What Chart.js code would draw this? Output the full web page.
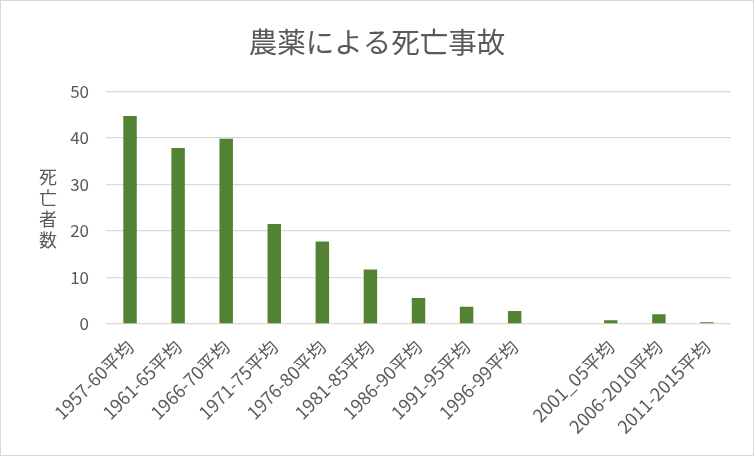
<!DOCTYPE html>
<html>
<head>
<meta charset="utf-8">
<script src="https://cdn.jsdelivr.net/npm/chart.js@4"></script>
<style>
  body { margin: 0; background: #fff; }
  #box { width: 752px; height: 454px; border: 1px solid #d9d9d9; }
</style>
</head>
<body>
<div id="box"><canvas id="myChart" width="752" height="454"></canvas></div>
<script>
const chart_title = "農薬による死亡事故";
const y_title = "死亡者数";
const periods = ["1957-60平均", "1961-65平均", "1966-70平均", "1971-75平均", "1976-80平均",
  "1981-85平均", "1986-90平均", "1991-95平均", "1996-99平均", "",
  "2001_05平均", "2006-2010平均", "2011-2015平均"];
const deaths = [44.7, 37.8, 39.8, 21.5, 17.7, 11.7, 5.6, 3.7, 2.8, null, 0.8, 2.1, 0.4];
const y_ticks = [0, 10, 20, 30, 40, 50];

const textColor = "#595959";
const fontFamily = "'Noto Sans CJK JP', 'Noto Sans', sans-serif";

/* vertical axis title, one character per line */
const verticalTitle = {
  id: "verticalTitle",
  afterDraw(chart) {
    const ctx = chart.ctx;
    ctx.save();
    ctx.fillStyle = textColor;
    ctx.font = "18px " + fontFamily;
    ctx.textAlign = "center";
    ctx.textBaseline = "middle";
    const chars = y_title.split("");
    for (let i = 0; i < chars.length; i++) {
      ctx.fillText(chars[i], 47, 176 + i * 21);
    }
    ctx.restore();
  }
};

const config = {
  type: "bar",
  data: {
    labels: periods,
    datasets: [{
      label: "死亡者数",
      data: deaths,
      backgroundColor: "#548235",
      categoryPercentage: 1,
      barPercentage: 0.28
    }]
  },
  options: {
    responsive: false,
    animation: false,
    layout: { padding: 0 },
    plugins: {
      legend: { display: false },
      tooltip: { enabled: false },
      title: {
        display: true,
        text: chart_title,
        color: textColor,
        font: { family: fontFamily, size: 28.5, weight: "normal" },
        padding: { top: 24, bottom: 32 }
      }
    },
    scales: {
      x: {
        grid: { display: false },
        border: { display: false },
        ticks: {
          color: textColor,
          font: { family: fontFamily, size: 18 },
          minRotation: 45,
          maxRotation: 45,
          autoSkip: false,
          padding: 4
        },
        afterFit(scale) { scale.height = 131; }
      },
      y: {
        min: 0,
        max: 50,
        afterBuildTicks(scale) { scale.ticks = y_ticks.map(v => ({ value: v })); },
        grid: { color: "#d9d9d9", lineWidth: 1.3, drawTicks: false },
        border: { display: false },
        ticks: {
          color: textColor,
          font: { family: fontFamily, size: 17 },
          padding: 17
        },
        afterFit(scale) { scale.width = 105; }
      },
      /* empty right margin so the title stays centred on the canvas */
      yRight: {
        position: "right",
        grid: { display: false },
        border: { display: false },
        ticks: { display: false },
        afterFit(scale) { scale.width = 22; }
      }
    }
  },
  plugins: [verticalTitle]
};

const ctx = document.getElementById("myChart").getContext("2d");
const myChart = new Chart(ctx, config);
</script>
</body>
</html>
